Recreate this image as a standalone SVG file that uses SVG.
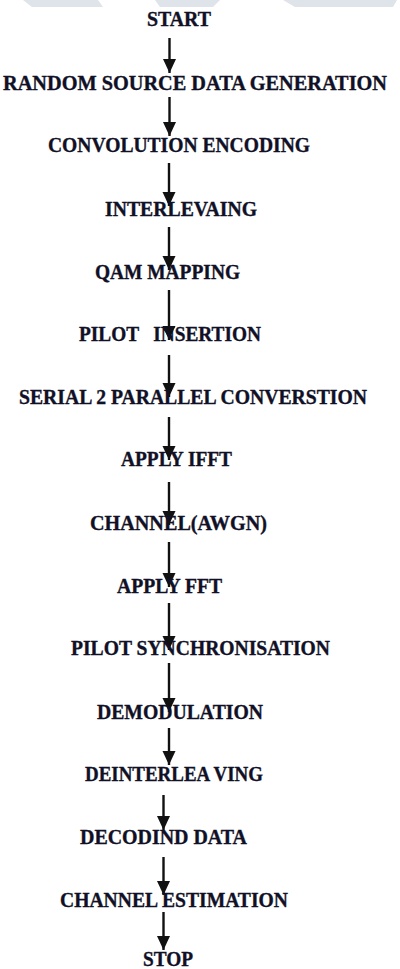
<svg xmlns="http://www.w3.org/2000/svg" width="400" height="969" viewBox="0 0 400 969">
  <style>
    text { font-family: "Liberation Serif", "DejaVu Serif", serif; font-weight: 700; font-size: 20px; fill: #101026; stroke: #101026; stroke-width: 0.35; text-anchor: middle; }
    .arr { stroke: #111; stroke-width: 2.4; fill: none; marker-end: url(#head); }
    .band { fill: #dfe3ea; }
  </style>
  <defs>
    <!-- solid arrowhead, tip at the end of the line -->
    <marker id="head" markerUnits="userSpaceOnUse" markerWidth="14" markerHeight="14" viewBox="0 0 14 14" refX="14" refY="7" orient="auto">
      <path d="M0,0.5 L14,7 L0,13.5 Z" fill="#111"/>
    </marker>
  </defs>

  <!-- light header band at the top edge -->
  <g id="header">
    <polygon class="band" points="23,0 98,0 103,7 32,7"/>
    <polygon class="band" points="155,0 220,0 213,7 160,7"/>
    <polygon class="band" points="283,0 397,0 393,7 295,7"/>
  </g>

  <g id="connectors">
    <line class="arr" x1="169.5" y1="38" x2="169.5" y2="73"/>
    <line class="arr" x1="169.5" y1="97" x2="169.5" y2="136"/>
    <line class="arr" x1="169" y1="163" x2="169" y2="206"/>
    <line class="arr" x1="169" y1="227" x2="169" y2="270"/>
    <line class="arr" x1="169" y1="290" x2="169" y2="340"/>
    <line class="arr" x1="169" y1="355" x2="169" y2="397"/>
    <line class="arr" x1="169" y1="417" x2="169" y2="460"/>
    <line class="arr" x1="169" y1="482" x2="169" y2="525"/>
    <line class="arr" x1="169" y1="542" x2="169" y2="587"/>
    <line class="arr" x1="169" y1="603" x2="169" y2="650"/>
    <line class="arr" x1="169" y1="663" x2="169" y2="712"/>
    <line class="arr" x1="169" y1="728" x2="169" y2="765"/>
    <line class="arr" x1="163.5" y1="795" x2="163.5" y2="830"/>
    <line class="arr" x1="163.5" y1="857" x2="163.5" y2="895"/>
    <line class="arr" x1="163.5" y1="912" x2="163.5" y2="950"/>
  </g>

  <g id="start"><text x="179" y="26" textLength="64" lengthAdjust="spacingAndGlyphs">START</text></g>
  <g id="random-source"><text x="195" y="90" textLength="384" lengthAdjust="spacingAndGlyphs">RANDOM SOURCE DATA GENERATION</text></g>
  <g id="convolution"><text x="179" y="152" textLength="262" lengthAdjust="spacingAndGlyphs">CONVOLUTION ENCODING</text></g>
  <g id="interleaving"><text x="181" y="216" textLength="152" lengthAdjust="spacingAndGlyphs">INTERLEVAING</text></g>
  <g id="qam"><text x="167.5" y="279" textLength="145" lengthAdjust="spacingAndGlyphs">QAM MAPPING</text></g>
  <g id="pilot-insertion"><text x="170" y="341" textLength="182" lengthAdjust="spacingAndGlyphs" xml:space="preserve">PILOT   INSERTION</text></g>
  <g id="serial-parallel"><text x="193" y="404" textLength="348" lengthAdjust="spacingAndGlyphs">SERIAL 2 PARALLEL CONVERSTION</text></g>
  <g id="ifft"><text x="176.5" y="466" textLength="111" lengthAdjust="spacingAndGlyphs">APPLY IFFT</text></g>
  <g id="channel"><text x="178.5" y="530" textLength="177" lengthAdjust="spacingAndGlyphs">CHANNEL(AWGN)</text></g>
  <g id="fft"><text x="169.5" y="593" textLength="105" lengthAdjust="spacingAndGlyphs">APPLY FFT</text></g>
  <g id="pilot-sync"><text x="200.5" y="655" textLength="259" lengthAdjust="spacingAndGlyphs">PILOT SYNCHRONISATION</text></g>
  <g id="demodulation"><text x="180" y="719" textLength="166" lengthAdjust="spacingAndGlyphs">DEMODULATION</text></g>
  <g id="deinterleaving"><text x="174" y="781" textLength="178" lengthAdjust="spacingAndGlyphs">DEINTERLEA VING</text></g>
  <g id="decoding"><text x="163.5" y="844" textLength="167" lengthAdjust="spacingAndGlyphs">DECODIND DATA</text></g>
  <g id="estimation"><text x="174" y="907" textLength="228" lengthAdjust="spacingAndGlyphs">CHANNEL ESTIMATION</text></g>
  <g id="stop"><text x="168" y="966" textLength="50" lengthAdjust="spacingAndGlyphs">STOP</text></g>
</svg>
